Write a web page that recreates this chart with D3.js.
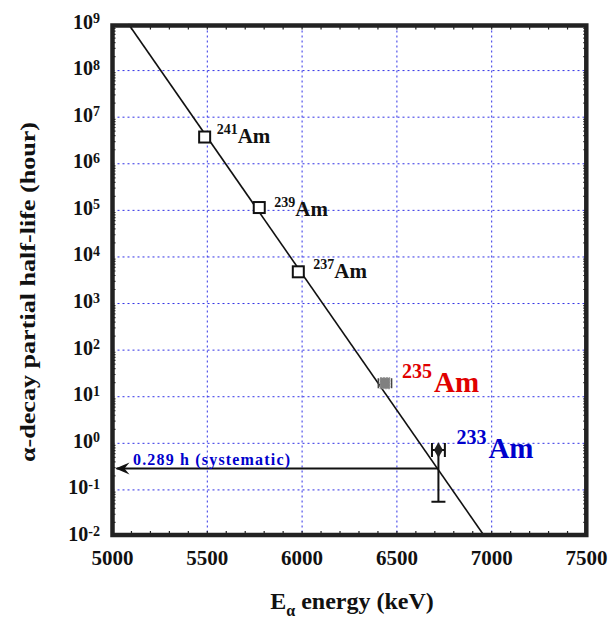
<!DOCTYPE html>
<html>
<head>
<meta charset="utf-8">
<script src="https://cdn.jsdelivr.net/npm/d3@7"></script>
<style>
  body { margin: 0; background: #fff; }
  text { font-family: "Liberation Serif", "Times New Roman", serif; font-weight: bold; }
</style>
</head>
<body>
<script>
// known isotopes (open squares)
const knownMass = ["241", "239", "237"];
const knownE = [5486, 5774, 5980];
const knownT = [3.75e6, 1.15e5, 4.8e3];

// 235Am (grey marker)
const am235E = 6437, am235T = 19.5, am235dE = 35;
// 233Am (black diamond with errors)
const am233E = 6719, am233T = 0.72, am233dE = 34, am233Tlow = 0.056, am233Thigh = 0.9;

// systematics line and extrapolated value
const lineE = [5084, 6963];
const lineT = [1e9, 1e-2];
const systT = 0.289, systE = 6713;

const xTicks = [5000, 5500, 6000, 6500, 7000, 7500];
const yExps = [-2, -1, 0, 1, 2, 3, 4, 5, 6, 7, 8, 9];

const W = 615, H = 628;
const svg = d3.select("body").append("svg").attr("width", W).attr("height", H);

const x = d3.scaleLinear().domain([5000, 7500]).range([112.5, 586.5]);
const y = d3.scaleLog().domain([1e-2, 1e9]).range([536.5, 24]);

const x0 = 112.5, x1 = 586.3, y0 = 25.5, y1 = 535;

// grid lines
const grid = svg.append("g").attr("stroke", "#3030e6").attr("stroke-width", 1).attr("stroke-dasharray", "2,3");
grid.selectAll(".gx")
  .data(xTicks.slice(1, -1))
  .enter()
  .append("line")
  .attr("x1", (d) => x(d)).attr("x2", (d) => x(d))
  .attr("y1", y0).attr("y2", y1);
grid.selectAll(".gy")
  .data(yExps.slice(1, -1))
  .enter()
  .append("line")
  .attr("x1", x0).attr("x2", x1)
  .attr("y1", (d) => y(Math.pow(10, d))).attr("y2", (d) => y(Math.pow(10, d)));

// minor ticks inside frame
const ticks = svg.append("g").attr("stroke", "#222").attr("stroke-width", 1.2);
const xMinor = d3.range(5100, 7500, 100);
ticks.selectAll(".mx")
  .data(xMinor)
  .enter()
  .append("path")
  .attr("d", (d) => `M${x(d)},${y1}v-4M${x(d)},${y0}v4`);
const yMinor = [];
yExps.slice(0, -1).forEach((e) => d3.range(2, 10).forEach((m) => yMinor.push(m * Math.pow(10, e))));
ticks.selectAll(".my")
  .data(yMinor)
  .enter()
  .append("path")
  .attr("d", (d) => `M${x0},${y(d)}h3M${x1},${y(d)}h-3`);

// systematics line
svg.append("path")
  .datum(d3.zip(lineE, lineT))
  .attr("fill", "none")
  .attr("stroke", "#111")
  .attr("stroke-width", 1.6)
  .attr("d", d3.line().x((d) => x(d[0])).y((d) => y(d[1])));

// arrow to the y axis
const ay = y(systT);
svg.append("line")
  .attr("x1", x(systE)).attr("x2", x0 + 4)
  .attr("y1", ay).attr("y2", ay)
  .attr("stroke", "#111").attr("stroke-width", 2);
svg.append("path")
  .attr("d", `M${x0 + 3},${ay}L${x0 + 17},${ay - 6}L${x0 + 12},${ay}L${x0 + 17},${ay + 6}Z`)
  .attr("fill", "#111");
svg.append("text")
  .attr("x", 133).attr("y", 465)
  .attr("fill", "#0000cc")
  .attr("font-size", 16)
  .attr("textLength", 157)
  .text("0.289 h (systematic)");

// 233Am error bars and diamond
const e233 = svg.append("g").attr("stroke", "#111").attr("stroke-width", 2);
const cx233 = x(am233E), cy233 = y(am233T);
e233.append("path")
  .attr("d", `M${x(am233E - am233dE)},${cy233}H${x(am233E + am233dE)}` +
    `M${x(am233E - am233dE)},${cy233 - 7}v14M${x(am233E + am233dE)},${cy233 - 7}v14` +
    `M${cx233},${y(am233Thigh)}V${y(am233Tlow)}M${cx233 - 7},${y(am233Tlow)}h14`);
svg.append("path")
  .attr("d", d3.symbol(d3.symbolDiamond, 70)())
  .attr("transform", `translate(${cx233},${cy233})`)
  .attr("fill", "#222");

// 235Am grey marker
const e235 = svg.append("g").attr("stroke", "#444").attr("stroke-width", 1.5);
const cx235 = x(am235E), cy235 = y(am235T);
e235.append("path")
  .attr("d", `M${x(am235E - am235dE)},${cy235 - 5}v10M${x(am235E + am235dE)},${cy235 - 5}v10`);
svg.append("rect")
  .attr("x", cx235 - 5).attr("y", cy235 - 5.5)
  .attr("width", 10).attr("height", 11)
  .attr("fill", "#808080").attr("stroke", "#999").attr("stroke-width", 1)
  .attr("stroke-dasharray", "2,1");

// known isotopes
svg.selectAll(".sq")
  .data(knownE)
  .enter()
  .append("rect")
  .attr("x", (d) => x(d) - 5.5)
  .attr("y", (d, i) => y(knownT[i]) - 5.5)
  .attr("width", 11).attr("height", 11)
  .attr("fill", "#fff").attr("stroke", "#111").attr("stroke-width", 2);

const knownDx = [12, 15, 15];
const knownDy = [6, 8, 6];
const lbl = svg.selectAll(".lbl")
  .data(knownE)
  .enter()
  .append("text")
  .attr("x", (d, i) => x(d) + knownDx[i])
  .attr("y", (d, i) => y(knownT[i]) + knownDy[i])
  .attr("fill", "#111");
lbl.append("tspan").attr("font-size", 14).attr("dy", -9).text((d, i) => knownMass[i]);
lbl.append("tspan").attr("font-size", 21).attr("dy", 9).text("Am");

// big labels for 235 and 233
function bigLabel(px, py, mass, color) {
  const t = svg.append("text").attr("x", px).attr("y", py).attr("fill", color);
  t.append("tspan").attr("font-size", 20).attr("dy", -14).text(mass);
  t.append("tspan").attr("font-size", 29).attr("dx", 2).attr("dy", 14).text("Am");
}
bigLabel(cx235 + 17, cy235 + 9, "235", "#e00000");
bigLabel(cx233 + 18, cy233 + 8, "233", "#0000cc");

// frame
svg.append("rect")
  .attr("x", x0).attr("y", y0)
  .attr("width", x1 - x0).attr("height", y1 - y0)
  .attr("fill", "none").attr("stroke", "#222").attr("stroke-width", 4.5);

// tick labels
svg.selectAll(".xl")
  .data(xTicks)
  .enter()
  .append("text")
  .attr("x", (d) => x(d))
  .attr("y", 565)
  .attr("text-anchor", "middle")
  .attr("font-size", 21)
  .attr("fill", "#111")
  .text((d) => d);

const yl = svg.selectAll(".yl")
  .data(yExps)
  .enter()
  .append("text")
  .attr("x", 100)
  .attr("y", (d) => y(Math.pow(10, d)) + 4.5)
  .attr("text-anchor", "end")
  .attr("font-size", 20)
  .attr("fill", "#111");
yl.append("tspan").text("10");
yl.append("tspan").attr("font-size", 14).attr("dy", -5.5).text((d) => d);

// axis titles
const xt = svg.append("text")
  .attr("x", 352).attr("y", 609)
  .attr("text-anchor", "middle")
  .attr("font-size", 24)
  .attr("fill", "#111");
xt.append("tspan").text("E");
xt.append("tspan").attr("font-size", 16).attr("dy", 7).text("α");
xt.append("tspan").attr("dy", -7).text(" energy (keV)");

svg.append("text")
  .attr("transform", "translate(35,292) rotate(-90)")
  .attr("text-anchor", "middle")
  .attr("font-size", 22)
  .attr("textLength", 340)
  .attr("lengthAdjust", "spacingAndGlyphs")
  .attr("fill", "#111")
  .text("α-decay partial half-life (hour)");
</script>
</body>
</html>
